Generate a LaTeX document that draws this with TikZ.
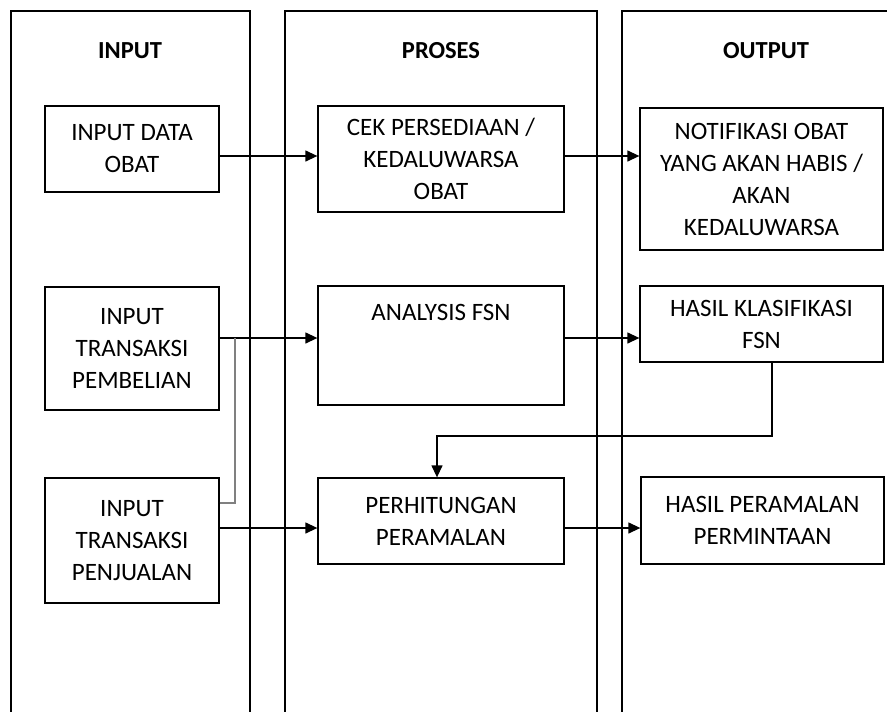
\documentclass[tikz,border=0pt]{standalone}
\usepackage{fontspec}
\setmainfont{Carlito}
\usetikzlibrary{arrows.meta}
\begin{document}
\begin{tikzpicture}[x=1pt,y=-1pt,
  box/.style={draw,line width=1.3pt,inner sep=0pt,align=center,font=\fontsize{25}{32}\selectfont},
  txt/.style={inner sep=0pt,align=center,font=\fontsize{25}{32}\selectfont},
  hdr/.style={inner sep=0pt,font=\fontsize{24.5}{28}\selectfont\bfseries},
  frame/.style={line width=1.3pt},
  conn/.style={line width=1.3pt},
  arr/.style={conn,-{Triangle[length=12pt,width=11pt]}},
  grayconn/.style={line width=1.6pt,draw=black!50},
]
\useasboundingbox (0,0) rectangle (887,712);
\clip (0,0) rectangle (887,712);
% column frames (open at bottom)
\draw[frame] (11,715) -- (11,11) -- (250,11) -- (250,715);
\draw[frame] (285,715) -- (285,11) -- (597,11) -- (597,715);
\draw[frame] (622,715) -- (622,11) -- (910,11) -- (910,715);
% headers
\node[hdr] (hin) at (130,51) {INPUT};
\node[hdr] (hpr) at (441,51) {PROSES};
\node[hdr] (hout) at (766,51) {OUTPUT};
% input boxes
\node[box,minimum width=174pt,minimum height=86pt] (obat) at (132,149) {INPUT DATA\\OBAT};
\node[box,minimum width=174pt,minimum height=123pt] (beli) at (132,348.5) {INPUT\\TRANSAKSI\\PEMBELIAN};
\node[box,minimum width=174pt,minimum height=125pt] (jual) at (132,540.5) {INPUT\\TRANSAKSI\\PENJUALAN};
% process boxes
\node[box,minimum width=246pt,minimum height=106pt] (cek) at (441,159) {CEK PERSEDIAAN /\\KEDALUWARSA\\OBAT};
\node[box,minimum width=246pt,minimum height=119pt] (fsn) at (441,345.5) {};
\node[txt] (fsnt) at (441,312) {ANALYSIS FSN};
\node[box,minimum width=246pt,minimum height=86pt] (hitung) at (441,521) {PERHITUNGAN\\PERAMALAN};
% output boxes
\node[box,minimum width=243pt,minimum height=142pt] (notif) at (761.5,179) {NOTIFIKASI OBAT\\YANG AKAN HABIS /\\AKAN\\KEDALUWARSA};
\node[box,minimum width=243pt,minimum height=76pt] (klas) at (761.5,324) {HASIL KLASIFIKASI\\FSN};
\node[box,minimum width=243pt,minimum height=87pt] (ramal) at (762.5,520.5) {HASIL PERAMALAN\\PERMINTAAN};
% row coordinates
\coordinate (r1) at (0,156);
\coordinate (r2) at (0,338);
\coordinate (r3) at (0,528);
\coordinate (g) at (235,503);
\coordinate (k) at (0,436);
% connectors
\draw[arr] (obat.east |- r1) -- (cek.west |- r1);
\draw[arr] (cek.east |- r1) -- (notif.west |- r1);
\draw[arr] (beli.east |- r2) -- (fsn.west |- r2);
\draw[arr] (fsn.east |- r2) -- (klas.west |- r2);
\draw[arr] (jual.east |- r3) -- (hitung.west |- r3);
\draw[arr] (hitung.east |- r3) -- (ramal.west |- r3);
\draw[grayconn] (jual.east |- g) -- (g) -- (g |- r2);
\draw[arr] ([xshift=10.5pt]klas.south) |- ([xshift=-4pt]hitung.north |- k) -- ([xshift=-4pt]hitung.north);
\end{tikzpicture}
\end{document}
